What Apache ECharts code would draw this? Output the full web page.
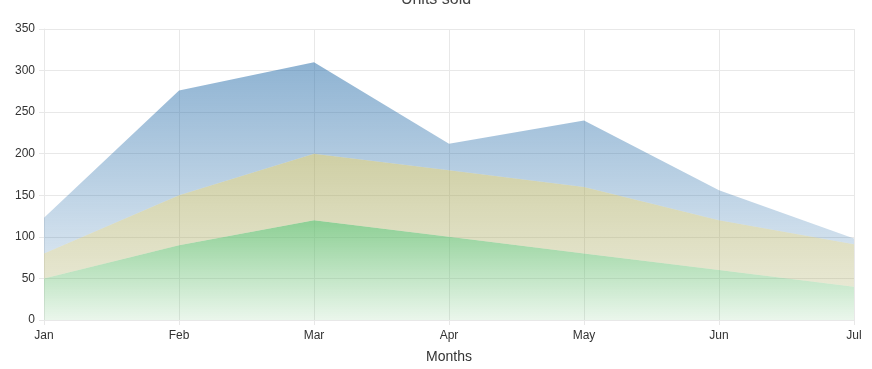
<!DOCTYPE html>
<html><head><meta charset="utf-8">
<script src="https://cdn.jsdelivr.net/npm/echarts@6/dist/echarts.min.js"></script>
<style>html,body{margin:0;padding:0;background:#fff}#c{width:872px;height:369px}</style>
</head><body><div id="c"></div>
<script>
const categories = ['Jan','Feb','Mar','Apr','May','Jun','Jul'];
const blueValues = [123, 276, 310, 212, 240, 156, 98];
const yellowValues = [80, 150, 200, 180, 160, 120, 91];
const greenValues = [50, 90, 120, 100, 80, 60, 40];
const yTicks = [0, 50, 100, 150, 200, 250, 300, 350];

const G_TOP = 29, G_BOTTOM = 325;
function grad(r, g, b, aTop, yTop, aBot, yBot) {
  return {
    type: 'linear', global: true, x: 0, y: yTop, x2: 0, y2: yBot,
    colorStops: [
      { offset: 0, color: `rgba(${r},${g},${b},${aTop})` },
      { offset: 1, color: `rgba(${r},${g},${b},${aBot})` }
    ]
  };
}
const diff = (a, b) => a.map((v, i) => v - b[i]);

const chart = echarts.init(document.getElementById('c'), null, { renderer: 'canvas' });
const gridLine = '#e8e8e8';
const font = 'Liberation Sans, Arial, sans-serif';
chart.setOption({
  animation: false,
  title: {
    text: 'Units sold', left: 'center', top: -8, padding: 0,
    textStyle: { fontFamily: font, fontSize: 16, fontWeight: 'normal', color: '#444' }
  },
  grid: { left: 44, right: 18, top: G_TOP, bottom: 369 - G_BOTTOM, containLabel: false },
  xAxis: {
    type: 'category', data: categories, boundaryGap: false,
    name: 'Months', nameLocation: 'middle', nameGap: 30,
    nameTextStyle: { fontFamily: font, fontSize: 14, color: '#333' },
    axisLine: { show: true, lineStyle: { color: gridLine } },
    axisTick: { show: true, alignWithLabel: true, length: 5, lineStyle: { color: gridLine } },
    axisLabel: { margin: 10, fontFamily: font, fontSize: 12, color: '#333',
      showMinLabel: true, showMaxLabel: true },
    splitLine: { show: true, lineStyle: { color: gridLine } }
  },
  yAxis: {
    type: 'value', min: yTicks[0], max: yTicks[yTicks.length - 1], interval: 50,
    axisLine: { show: true, lineStyle: { color: gridLine } },
    axisTick: { show: true, length: 5, lineStyle: { color: gridLine } },
    axisLabel: { margin: 9, fontFamily: font, fontSize: 12, color: '#333' },
    splitLine: { show: true, lineStyle: { color: gridLine } }
  },
  series: [
    { name: 'Green', type: 'line', stack: 'units', data: greenValues, symbol: 'none',
      lineStyle: { width: 0 }, areaStyle: { color: grad(100, 190, 110, 0.72, 223, 0.1, G_BOTTOM), opacity: 1 } },
    { name: 'Yellow', type: 'line', stack: 'units', data: diff(yellowValues, greenValues), symbol: 'none',
      lineStyle: { width: 0 }, areaStyle: { color: grad(165, 165, 85, 0.53, 156, 0.18, G_BOTTOM), opacity: 1 } },
    { name: 'Blue', type: 'line', stack: 'units', data: diff(blueValues, yellowValues), symbol: 'none',
      lineStyle: { width: 0 }, areaStyle: { color: grad(40, 110, 170, 0.58, G_TOP, 0.075, G_BOTTOM), opacity: 1 } }
  ]
});
</script></body></html>
